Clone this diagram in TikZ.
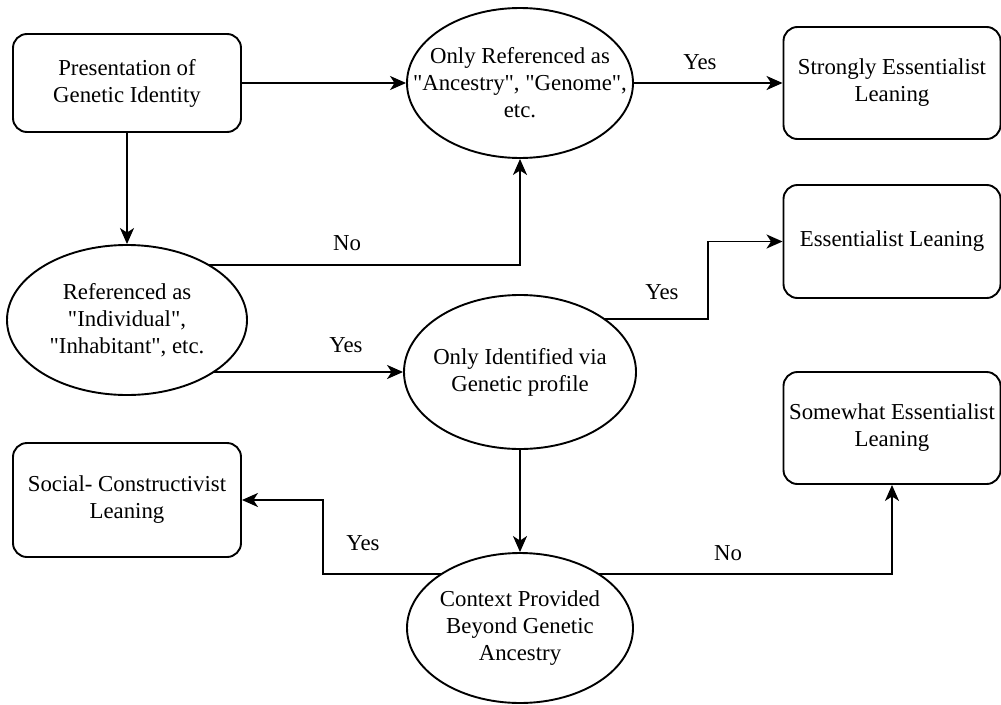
\documentclass[tikz,border=0pt]{standalone}
\usepackage{fontspec}
\setmainfont{Liberation Serif}
\usetikzlibrary{arrows.meta,shapes.geometric,calc}
\pgfdeclarelayer{background}
\pgfsetlayers{background,main}
\newcommand{\myq}[1]{\textquotedbl#1\textquotedbl}
\begin{document}
\begin{tikzpicture}[x=1pt,y=-1pt,
  every node/.style={font=\fontsize{22.8}{27}\selectfont, text=black},
  rbox/.style={draw=black, line width=1.9pt, rounded corners=14pt, fill=white,
    inner sep=0pt, align=center},
  ell/.style={draw=black, line width=1.9pt, ellipse, fill=white, inner sep=0pt},
  lbl/.style={align=center, inner sep=0pt},
  arr/.style={draw=black, line width=1.9pt, -{Stealth[length=16pt,width=14pt,inset=4.5pt]}},
  tag/.style={inner sep=1pt}]
\useasboundingbox (0,0) rectangle (1001,704);

% nodes
\node[rbox, minimum width=228pt, minimum height=98pt] (b1) at (127,83)
  {Presentation of\\Genetic Identity};
\node[ell, minimum width=226pt, minimum height=150pt,
  label={[lbl]center:{Only Referenced as\\\myq{Ancestry}, \myq{Genome},\\etc.}}] (e1) at (520,83) {};
\node[rbox, minimum width=217pt, minimum height=112pt] (s1) at (892,83)
  {Strongly Essentialist\\Leaning};
\node[ell, minimum width=240pt, minimum height=150pt,
  label={[lbl]center:{Referenced as\\\myq{Individual},\\\myq{Inhabitant}, etc.}}] (e2) at (127,320) {};
\node[rbox, minimum width=217pt, minimum height=113pt] (s2) at (892,241.5)
  {Essentialist Leaning};
\node[ell, minimum width=232pt, minimum height=154pt,
  label={[lbl]center:{Only Identified via\\Genetic profile}}] (e3) at (520,372) {};
\node[rbox, minimum width=217pt, minimum height=112pt] (s3) at (892,428)
  {Somewhat Essentialist\\Leaning};
\node[rbox, minimum width=228pt, minimum height=114pt] (s4) at (127,500)
  {Social- Constructivist\\Leaning};
\node[ell, minimum width=226pt, minimum height=150pt,
  label={[lbl]center:{Context Provided\\Beyond Genetic\\Ancestry}}] (e4) at (520,628) {};

\coordinate (k1) at (708,0);
\coordinate (k2) at (323,0);

% connectors
\begin{pgfonlayer}{background}
\draw[arr] (b1.east) -- (e1.west);
\draw[arr] (e1.east) -- (s1.west);
\draw[arr] (b1.south) -- (e2.north);
\draw[arr] ([yshift=55pt]e2.center) -| (e1.south);
\draw[arr] (e2.center |- e3.west) -- (e3.west);
\draw[arr] ([yshift=53pt]e3.center) -| (k1 |- s2.west) -- (s2.west);
\draw[arr] (e3.south) -- (e4.north);
\draw[arr] ([yshift=54pt]e4.center) -| (k2 |- s4.east) -- (s4.east);
\draw[arr] ([yshift=54pt]e4.center) -| (s3.south);
\end{pgfonlayer}

% labels
\node[tag] (l1) at (700,62) {Yes};
\node[tag] (l2) at (347,243) {No};
\node[tag] (l3) at (346,345) {Yes};
\node[tag] (l4) at (662,292) {Yes};
\node[tag] (l5) at (363,543) {Yes};
\node[tag] (l6) at (728,553) {No};
\end{tikzpicture}
\end{document}
